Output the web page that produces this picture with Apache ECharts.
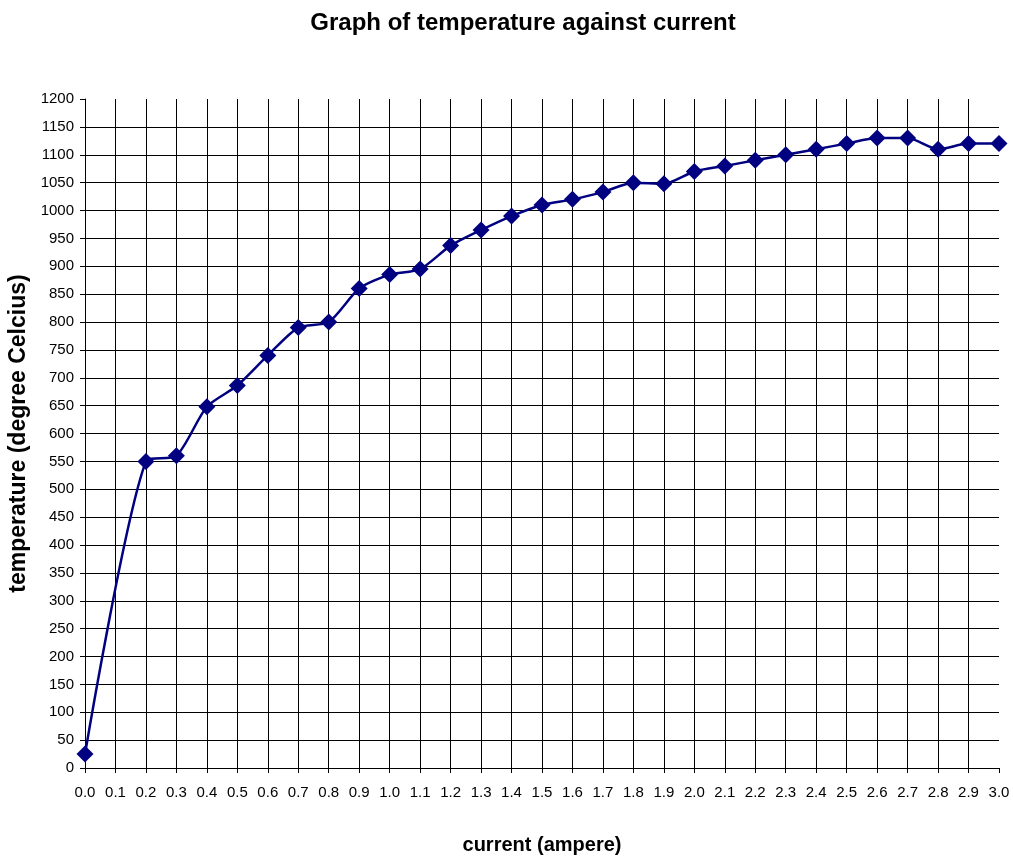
<!DOCTYPE html>
<html>
<head>
<meta charset="utf-8">
<script src="https://cdn.jsdelivr.net/npm/echarts@6/dist/echarts.min.js"></script>
<style>html,body{margin:0;padding:0;background:#fff}#c{width:1013px;height:858px}</style>
</head>
<body>
<div id="c"></div>
<script>
var currents = [0.0, 0.2, 0.3, 0.4, 0.5, 0.6, 0.7, 0.8, 0.9, 1.0, 1.1, 1.2, 1.3, 1.4, 1.5, 1.6, 1.7, 1.8, 1.9, 2.0, 2.1, 2.2, 2.3, 2.4, 2.5, 2.6, 2.7, 2.8, 2.9, 3.0];
var temperatures = [25, 550, 560, 648, 686, 740, 790, 800, 860, 885, 895, 937, 965, 990, 1010, 1020, 1033, 1050, 1048, 1070, 1080, 1090, 1100, 1110, 1120, 1130, 1130, 1110, 1120, 1120];
var titleText = 'Graph of temperature against current';
var xName = 'current (ampere)';
var yName = 'temperature (degree Celcius)';

var points = currents.map(function (c, i) { return [c, temperatures[i]]; });
var font = 'Liberation Sans, Arial, sans-serif';
var chart = echarts.init(document.getElementById('c'), null, {renderer: 'canvas'});
chart.setOption({
  animation: false,
  backgroundColor: '#fff',
  title: {
    text: titleText,
    left: 518, top: 6, textAlign: 'center',
    textStyle: {fontFamily: font, fontSize: 24, fontWeight: 'bold', color: '#000'}
  },
  grid: {left: 85, right: 14, top: 99, bottom: 90, outerBoundsMode: 'none', containLabel: false},
  xAxis: {
    type: 'value', min: 0, max: 3, interval: 0.1,
    name: xName, nameLocation: 'middle', nameGap: 67,
    nameTextStyle: {fontFamily: font, fontSize: 20, fontWeight: 'bold', color: '#000'},
    axisLine: {show: true, onZero: false, lineStyle: {color: '#000', width: 1}},
    axisTick: {show: true, length: 5, lineStyle: {color: '#000'}},
    axisLabel: {margin: 17, fontFamily: font, fontSize: 15, color: '#000',
      formatter: function (v) { return v.toFixed(1); }},
    splitLine: {show: true, showMinLine: false, showMaxLine: false, lineStyle: {color: '#000', width: 1}}
  },
  yAxis: {
    type: 'value', min: 0, max: 1200, interval: 50,
    name: yName, nameLocation: 'middle', nameGap: 51,
    nameTextStyle: {fontFamily: font, fontSize: 23, fontWeight: 'bold', color: '#000'},
    axisLine: {show: true, lineStyle: {color: '#000', width: 1}},
    axisTick: {show: true, length: 5, lineStyle: {color: '#000'}},
    axisLabel: {margin: 11, fontFamily: font, fontSize: 15, color: '#000',
      formatter: function (v) { return String(Math.round(v)); }},
    splitLine: {show: true, showMinLine: false, showMaxLine: false, lineStyle: {color: '#000', width: 1}}
  },
  series: [{
    type: 'line',
    data: points,
    smooth: 0.25,
    symbol: 'diamond',
    symbolSize: 17,
    itemStyle: {color: '#000080'},
    lineStyle: {color: '#000080', width: 2.5}
  }]
});
</script>
</body>
</html>
